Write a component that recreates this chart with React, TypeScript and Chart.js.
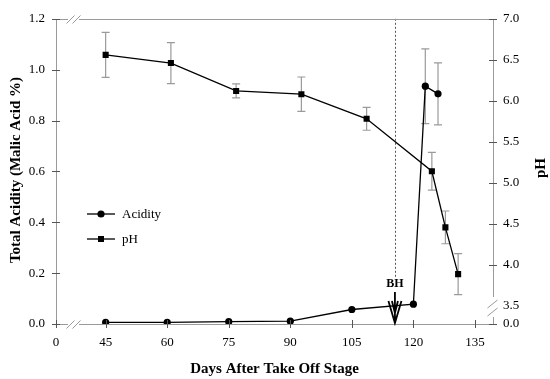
import React, { useEffect, useRef } from "react";
import { Chart, registerables } from "chart.js";
Chart.register(...registerables);

// ---- data ----
const acidityDays = [45, 60, 75, 90, 105, 120, 122.9, 126];
const acidityValues = [0.006, 0.006, 0.009, 0.011, 0.057, 0.078, 0.935, 0.905];
const acidityErrors = [0, 0, 0, 0, 0, 0, 0.147, 0.122];

const phDays = [45, 60.9, 76.8, 92.7, 108.6, 124.5, 127.8, 130.9];
const phValues = [6.56, 6.46, 6.12, 6.08, 5.78, 5.14, 4.455, 3.885];
const phErrors = [0.275, 0.25, 0.085, 0.21, 0.14, 0.23, 0.2, 0.25];

const xTickDays = [0, 45, 60, 75, 90, 105, 120, 135];
const leftTicks = [0, 0.2, 0.4, 0.6, 0.8, 1.0, 1.2];
const rightTicks = [0, 3.5, 4.0, 4.5, 5.0, 5.5, 6.0, 6.5, 7.0];
const bhDay = 115.5;

// broken axes: where the "0" of each broken axis sits on its linear scale
const X_ZERO_AT = 32.9;
const X_MAX = 139.4;
const PH_ZERO_AT = 3.276;
const PH_MAX = 7.0;

const xPos = (d: number) => (d === 0 ? X_ZERO_AT : d);
const phPos = (v: number) => (v === 0 ? PH_ZERO_AT : v);

const FONT = "'Liberation Serif', 'Times New Roman', serif";
const AXIS_GRAY = "#9a9a9a";
const TICK_COLOR = "#555";
const ERR_GRAY = "#9a9a9a";

const decorPlugin = {
  id: "decor",
  beforeDatasetsDraw(chart: any) {
    const ctx = chart.ctx;
    const x = chart.scales.x;
    const y = chart.scales.y;
    const y2 = chart.scales.y2;
    const { top } = chart.chartArea;
    ctx.save();
    // dotted BH line
    ctx.strokeStyle = "#555";
    ctx.lineWidth = 1;
    ctx.setLineDash([2, 2]);
    const bx = Math.round(x.getPixelForValue(bhDay)) + 0.5;
    ctx.beginPath();
    ctx.moveTo(bx, top);
    ctx.lineTo(bx, 278);
    ctx.stroke();
    ctx.setLineDash([]);

    // error bars
    ctx.strokeStyle = ERR_GRAY;
    ctx.lineWidth = 1.2;
    const drawErr = (days: number[], vals: number[], errs: number[], sc: any) => {
      days.forEach((d, i) => {
        const e = errs[i];
        if (!e) return;
        const px = x.getPixelForValue(d);
        const y1 = sc.getPixelForValue(vals[i] + e);
        const y0 = sc.getPixelForValue(vals[i] - e);
        ctx.beginPath();
        ctx.moveTo(px, y1);
        ctx.lineTo(px, y0);
        ctx.moveTo(px - 4, y1);
        ctx.lineTo(px + 4, y1);
        ctx.moveTo(px - 4, y0);
        ctx.lineTo(px + 4, y0);
        ctx.stroke();
      });
    };
    drawErr(acidityDays, acidityValues, acidityErrors, y);
    drawErr(phDays, phValues, phErrors, y2);
    ctx.restore();
  },
  afterDraw(chart: any) {
    const ctx = chart.ctx;
    const x = chart.scales.x;
    const y = chart.scales.y;
    const y2 = chart.scales.y2;
    const { left, right, top, bottom } = chart.chartArea;
    ctx.save();

    // axis lines
    ctx.strokeStyle = AXIS_GRAY;
    ctx.lineWidth = 1;
    const L = Math.round(left) + 0.5;
    const R = Math.round(right) + 0.5;
    const T = Math.round(top) + 0.5;
    const B = Math.round(bottom) + 0.5;
    const brkA = left + 12;
    const brkB = left + 23;
    ctx.beginPath();
    ctx.moveTo(L, T);
    ctx.lineTo(L, B);
    ctx.moveTo(L, T);
    ctx.lineTo(brkA, T);
    ctx.moveTo(brkB, T);
    ctx.lineTo(R, T);
    ctx.moveTo(L, B);
    ctx.lineTo(brkA, B);
    ctx.moveTo(brkB, B);
    ctx.lineTo(R, B);
    ctx.moveTo(R, T);
    ctx.lineTo(R, bottom - 27);
    ctx.moveTo(R, bottom - 7);
    ctx.lineTo(R, B);
    ctx.stroke();

    // break marks
    const slash = (cx: number, cy: number) => {
      ctx.moveTo(cx - 4, cy + 4);
      ctx.lineTo(cx + 4, cy - 4);
    };
    ctx.beginPath();
    slash(brkA + 2.5, T);
    slash(brkA + 8.5, T);
    slash(brkA + 2.5, B);
    slash(brkA + 8.5, B);
    ctx.moveTo(R - 6, bottom - 16);
    ctx.lineTo(R + 4, bottom - 24);
    ctx.moveTo(R - 6, bottom - 8);
    ctx.lineTo(R + 4, bottom - 16);
    ctx.stroke();

    // tick marks (centered on axis)
    ctx.strokeStyle = TICK_COLOR;
    ctx.beginPath();
    xTickDays.forEach((d) => {
      const px = Math.round(x.getPixelForValue(xPos(d))) + 0.5;
      ctx.moveTo(px, bottom - 4);
      ctx.lineTo(px, bottom + 4);
    });
    leftTicks.forEach((v) => {
      const py = Math.round(y.getPixelForValue(v)) + 0.5;
      ctx.moveTo(left - 4, py);
      ctx.lineTo(left + 4, py);
    });
    rightTicks.forEach((v) => {
      if (v === 3.5) return;
      const py = Math.round(y2.getPixelForValue(phPos(v))) + 0.5;
      ctx.moveTo(right - 4, py);
      ctx.lineTo(right + 4, py);
    });
    ctx.stroke();

    // BH label and arrow
    const bx = x.getPixelForValue(bhDay);
    ctx.fillStyle = "#000";
    ctx.font = `bold 12px ${FONT}`;
    ctx.textAlign = "center";
    ctx.textBaseline = "middle";
    ctx.fillText("BH", bx, 284);
    ctx.strokeStyle = "#000";
    ctx.lineWidth = 1.8;
    ctx.beginPath();
    ctx.moveTo(bx, 292);
    ctx.lineTo(bx, 321);
    ctx.moveTo(bx - 6.5, 301);
    ctx.lineTo(bx, 323);
    ctx.lineTo(bx + 6.5, 301);
    ctx.moveTo(bx - 3, 301);
    ctx.lineTo(bx, 313);
    ctx.lineTo(bx + 3, 301);
    ctx.stroke();

    // legend
    const legendItems = [
      { label: "Acidity", style: "circle", y: 214 },
      { label: "pH", style: "rect", y: 239 },
    ];
    legendItems.forEach((it) => {
      ctx.strokeStyle = "#000";
      ctx.lineWidth = 1.3;
      ctx.beginPath();
      ctx.moveTo(87, it.y);
      ctx.lineTo(115, it.y);
      ctx.stroke();
      ctx.fillStyle = "#000";
      ctx.beginPath();
      if (it.style === "circle") ctx.arc(101, it.y, 3.6, 0, Math.PI * 2);
      else ctx.rect(98, it.y - 3, 6, 6);
      ctx.fill();
      ctx.font = `13px ${FONT}`;
      ctx.textAlign = "left";
      ctx.textBaseline = "middle";
      ctx.fillText(it.label, 122, it.y + 0.5);
    });

    // axis titles
    ctx.fillStyle = "#000";
    ctx.font = `bold 15px ${FONT}`;
    ctx.textAlign = "center";
    ctx.textBaseline = "middle";
    ctx.fillText("Days After Take Off Stage", (left + right) / 2, 369);
    ctx.save();
    ctx.translate(16, 170);
    ctx.rotate(-Math.PI / 2);
    ctx.fillText("Total Acidity (Malic Acid %)", 0, 0);
    ctx.restore();
    ctx.save();
    ctx.translate(541, 168);
    ctx.rotate(-Math.PI / 2);
    ctx.fillText("pH", 0, 0);
    ctx.restore();

    ctx.restore();
  },
};

export default function App() {
  const ref = useRef<HTMLCanvasElement | null>(null);
  useEffect(() => {
    if (!ref.current) return;
    const tickFont = { family: FONT, size: 13 };
    const chart = new Chart(ref.current, {
      type: "line",
      data: {
        datasets: [
          {
            label: "Acidity",
            data: acidityDays.map((d, i) => ({ x: d, y: acidityValues[i] })),
            yAxisID: "y",
            borderColor: "#000",
            backgroundColor: "#000",
            borderWidth: 1.3,
            pointStyle: "circle",
            pointRadius: 3.6,
            pointBorderWidth: 0,
            tension: 0,
          },
          {
            label: "pH",
            data: phDays.map((d, i) => ({ x: d, y: phValues[i] })),
            yAxisID: "y2",
            borderColor: "#000",
            backgroundColor: "#000",
            borderWidth: 1.3,
            pointStyle: "rect",
            pointRadius: 4.3,
            pointBorderWidth: 0,
            tension: 0,
          },
        ],
      },
      options: {
        animation: false,
        responsive: false,
        layout: { padding: { top: 8, left: 0, right: 0, bottom: 0 } },
        plugins: { legend: { display: false }, tooltip: { enabled: false } },
        scales: {
          x: {
            type: "linear",
            position: "bottom",
            min: X_ZERO_AT,
            max: X_MAX,
            afterBuildTicks: (s: any) => {
              s.ticks = xTickDays.map((d) => ({ value: xPos(d) }));
            },
            afterFit: (s: any) => {
              s.height = 55;
            },
            ticks: {
              autoSkip: false,
              maxRotation: 0,
              font: tickFont,
              color: "#000",
              padding: 11,
              callback: (_v: any, i: number) => String(xTickDays[i]),
            },
            grid: { display: false, drawTicks: false },
            border: { display: false },
          },
          y: {
            type: "linear",
            position: "left",
            min: 0,
            max: 1.2,
            afterBuildTicks: (s: any) => {
              s.ticks = leftTicks.map((v) => ({ value: v }));
            },
            afterFit: (s: any) => {
              s.width = 56;
            },
            ticks: {
              font: tickFont,
              color: "#000",
              padding: 11,
              callback: (_v: any, i: number) => leftTicks[i].toFixed(1),
            },
            grid: { display: false, drawTicks: false },
            border: { display: false },
          },
          y2: {
            type: "linear",
            position: "right",
            min: PH_ZERO_AT,
            max: PH_MAX,
            afterBuildTicks: (s: any) => {
              s.ticks = rightTicks.map((v) => ({ value: phPos(v) }));
            },
            afterFit: (s: any) => {
              s.width = 57;
            },
            ticks: {
              font: tickFont,
              color: "#000",
              padding: 10,
              callback: (_v: any, i: number) => rightTicks[i].toFixed(1),
            },
            grid: { display: false, drawTicks: false },
            border: { display: false },
          },
        },
      },
      plugins: [decorPlugin],
    } as any);
    return () => chart.destroy();
  }, []);
  return (
    <div style={{ position: "absolute", left: 0, top: 0, width: 550, height: 379, background: "#fff" }}>
      <canvas ref={ref} width={550} height={379} />
    </div>
  );
}
